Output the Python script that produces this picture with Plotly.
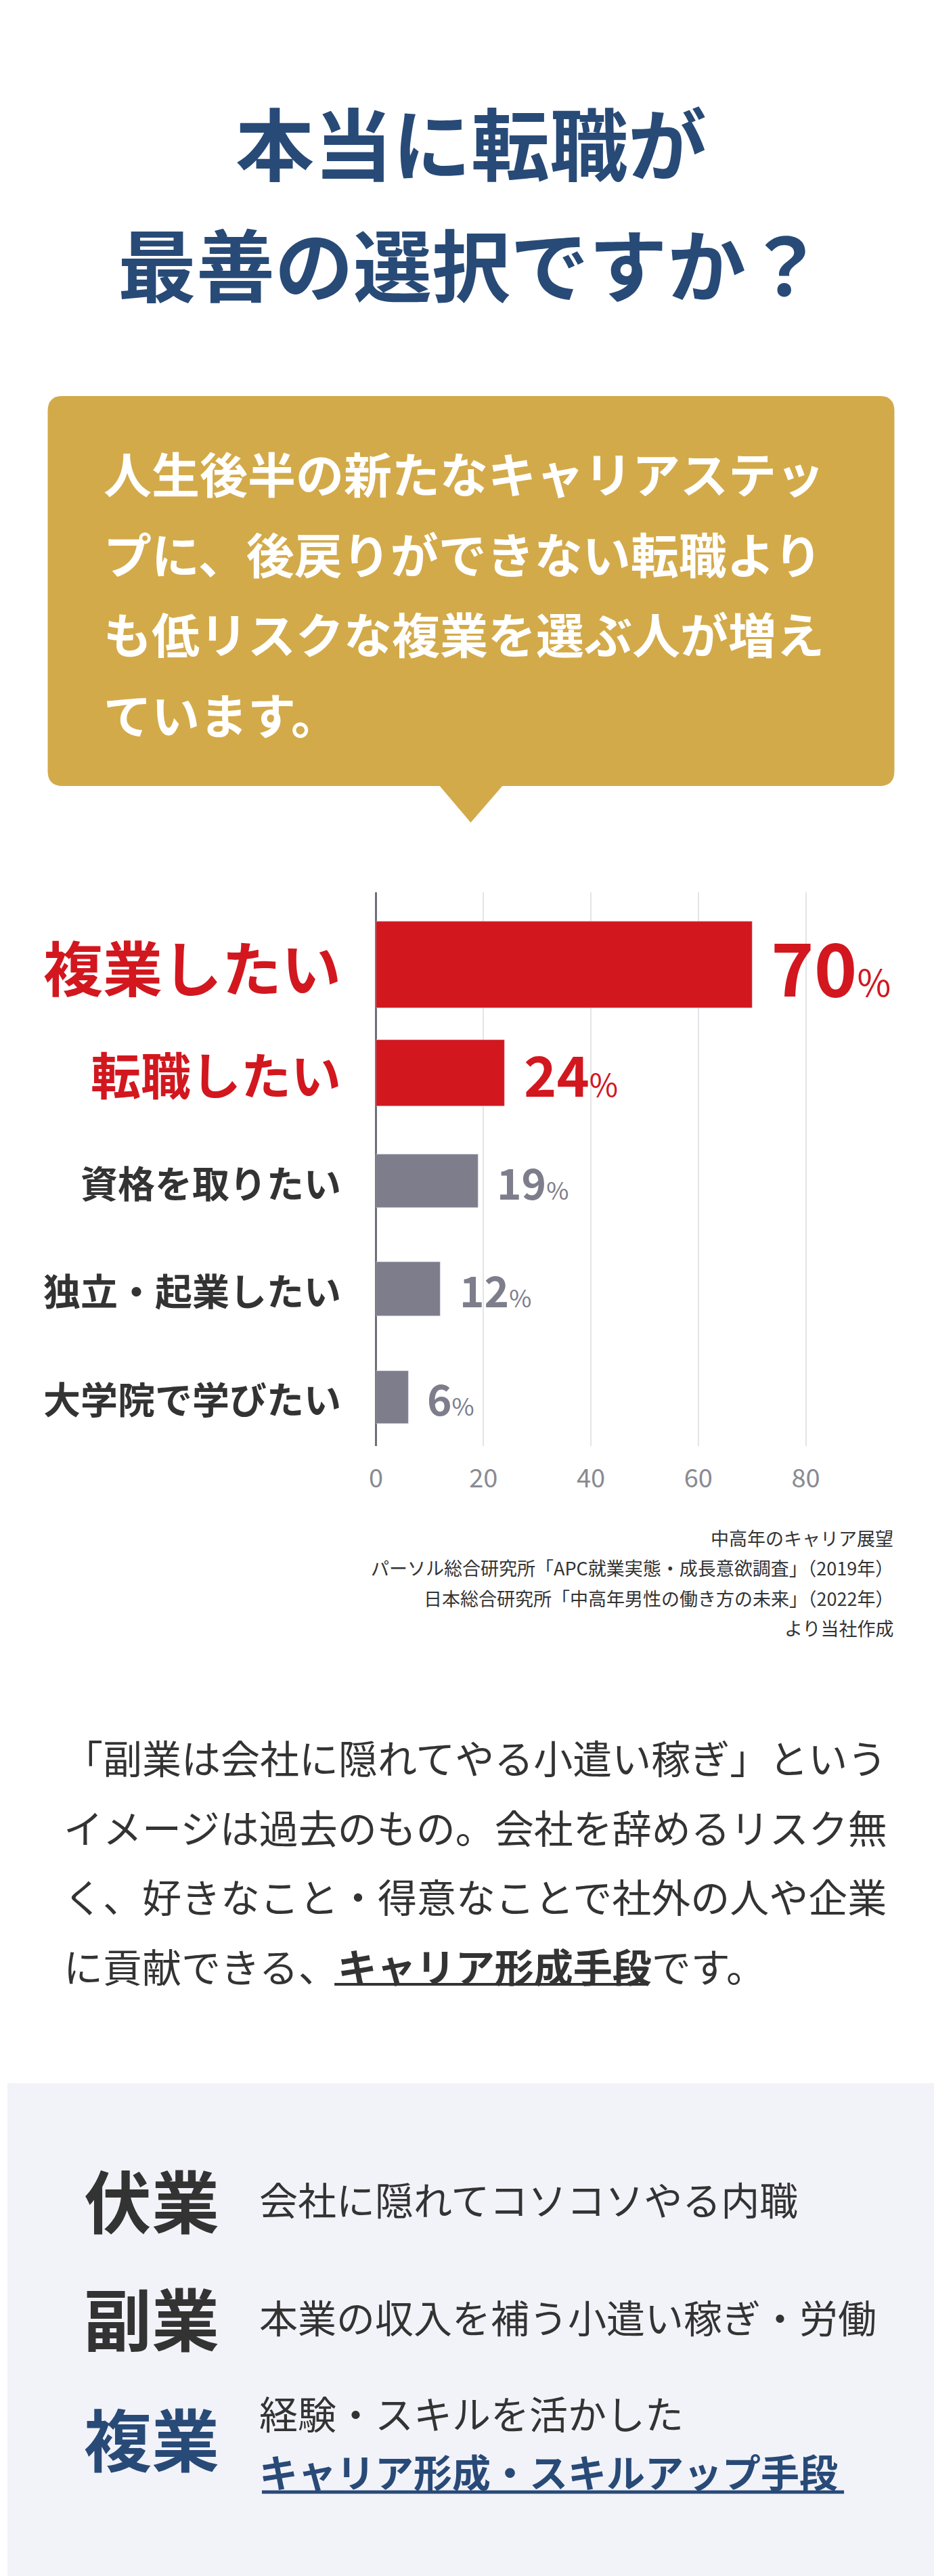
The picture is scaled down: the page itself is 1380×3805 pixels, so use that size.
import plotly.graph_objects as go

W, H = 1380, 3805

# data
categories = ["複業したい", "転職したい", "資格を取りたい", "独立・起業したい", "大学院で学びたい"]
values = [70, 24, 19, 12, 6]
x_ticks = [0, 20, 40, 60, 80]
source_lines = ["中高年のキャリア展望",
                "パーソル総合研究所「APC就業実態・成長意欲調査」（2019年）",
                "日本総合研究所「中高年男性の働き方の未来」（2022年）",
                "より当社作成"]

RED = "#d2171f"
GRAY = "#7d7d8b"
NAVY = "#284a77"
GOLD = "#d3aa4a"
DARK = "#333333"
FONT = "Noto Sans CJK JP"

bar_colors = [RED, RED, GRAY, GRAY, GRAY]
bar_widths = [0.8, 0.61, 0.49, 0.5, 0.49]
label_sizes = [88, 74, 55, 55, 55]
label_colors = [RED, RED, DARK, DARK, DARK]
num_sizes = [108, 82, 62, 62, 62]
pct_sizes = [54, 46, 36, 36, 36]


def py(y):
    return 1 - y / H


def px_(x):
    return x / W


fig = go.Figure(go.Bar(
    x=values, y=list(range(len(values))), orientation="h",
    marker_color=bar_colors, width=bar_widths, hoverinfo="skip",
))

ann = []


def text(t, x, y, size, color, xanchor="left", yref="paper", xref="paper"):
    ann.append(dict(text=t, x=x, y=y, xref=xref, yref=yref, xanchor=xanchor,
                    yanchor="middle", showarrow=False,
                    font=dict(size=size, color=color, family=FONT)))


# title
text("<b>本当に転職が</b>", 0.5, py(207), 116, NAVY, "center")
text("<b>最善の選択ですか？</b>", 0.5, py(386), 116, NAVY, "center")

# gold callout
box = ["人生後半の新たなキャリアステッ", "プに、後戻りができない転職より",
       "も低リスクな複業を選ぶ人が増え", "ています。"]
for i, t in enumerate(box):
    text(f"<b>{t}</b>", px_(141), py(697 + i * 118.7), 71, "white")

# category labels and value labels
for i, (c, v) in enumerate(zip(categories, values)):
    text(f"<b>{c}</b>", px_(499), i, label_sizes[i], label_colors[i], "right", yref="y")
    ann.append(dict(text=f"<b>{v}</b><span style='font-size:{pct_sizes[i]}px'>%</span>",
                    x=v, y=i, xref="x", yref="y", xanchor="left", yanchor="middle",
                    xshift=26, showarrow=False,
                    font=dict(size=num_sizes[i], color=bar_colors[i], family=FONT)))

# source
for i, t in enumerate(source_lines):
    text(t, px_(1322), py(2271 + i * 44.5), 27, DARK, "right")

# paragraph
para = ["「副業は会社に隠れてやる小遣い稼ぎ」という",
        "イメージは過去のもの。会社を辞めるリスク無",
        "く、好きなこと・得意なことで社外の人や企業",
        "に貢献できる、<b>キャリア形成手段</b>です。"]
for i, t in enumerate(para):
    text(t, px_(82), py(2595 + i * 102.7), 58, DARK)

# bottom comparison
rows = [("伏業", DARK, ["会社に隠れてコソコソやる内職"], [3247], 3247),
        ("副業", DARK, ["本業の収入を補う小遣い稼ぎ・労働"], [3421], 3421),
        ("複業", NAVY, ["経験・スキルを活かした", "<b>キャリア形成・スキルアップ手段</b>"],
         [3563, 3649], 3599)]
for k, col, lines, ys, ry in rows:
    text(f"<b>{k}</b>", px_(112), py(ry), 100, col)
    for t, y in zip(lines, ys):
        text(t, px_(373), py(y), 57, NAVY if "<b>" in t else DARK)

r = 22
x0, x1, y0, y1 = 60, 1321, 585, 1161
box_path = (f"M {x0+r},{y0} L {x1-r},{y0} Q {x1},{y0} {x1},{y0+r} L {x1},{y1-r} "
            f"Q {x1},{y1} {x1-r},{y1} L {x0+r},{y1} Q {x0},{y1} {x0},{y1-r} "
            f"L {x0},{y0+r} Q {x0},{y0} {x0+r},{y0} Z")


def to_paper_path(p):
    out = []
    for tok in p.split():
        if "," in tok:
            a, b = tok.split(",")
            out.append(f"{px_(float(a)):.5f},{py(float(b)):.5f}")
        else:
            out.append(tok)
    return " ".join(out)


shapes = [
    dict(type="rect", xref="paper", yref="paper", x0=0, x1=1, y0=0, y1=py(3077),
         fillcolor="#f2f2f9", line_width=0, layer="below"),
    dict(type="path", xref="paper", yref="paper", path=to_paper_path(box_path),
         fillcolor=GOLD, line_width=0, layer="below"),
    dict(type="path", xref="paper", yref="paper",
         path=to_paper_path("M 643,1160 L 738,1160 L 690,1215 Z"),
         fillcolor=GOLD, line_width=0, layer="below"),
    dict(type="line", xref="paper", yref="paper", x0=px_(487), x1=px_(953),
         y0=py(2931), y1=py(2931), line=dict(color=DARK, width=4)),
    dict(type="line", xref="paper", yref="paper", x0=px_(379), x1=px_(1246),
         y0=py(3681), y1=py(3681), line=dict(color=NAVY, width=5)),
]

fig.update_layout(
    width=W, height=H, margin=dict(l=0, r=0, t=0, b=0),
    paper_bgcolor="white", plot_bgcolor="white", showlegend=False,
    annotations=ann, shapes=shapes, bargap=0,
    xaxis=dict(domain=[px_(549), px_(1349)], range=[0, 100], tickvals=x_ticks,
               showgrid=True, gridcolor="#e4e4e8", gridwidth=2, zeroline=True,
               zerolinecolor="#6f6f78", zerolinewidth=3, ticklabelstandoff=22,
               tickfont=dict(size=38, color="#8a8a92", family=FONT), fixedrange=True),
    yaxis=dict(domain=[py(2136), py(1318)], range=[4.45, -0.67], showticklabels=False,
               showgrid=False, zeroline=False, fixedrange=True),
    font=dict(family=FONT),
)

# drop the browser's default page margin so the figure sits at 0,0
fig.write_html("out.html", config={"displayModeBar": False},
               post_script="document.body.style.margin='0';")
